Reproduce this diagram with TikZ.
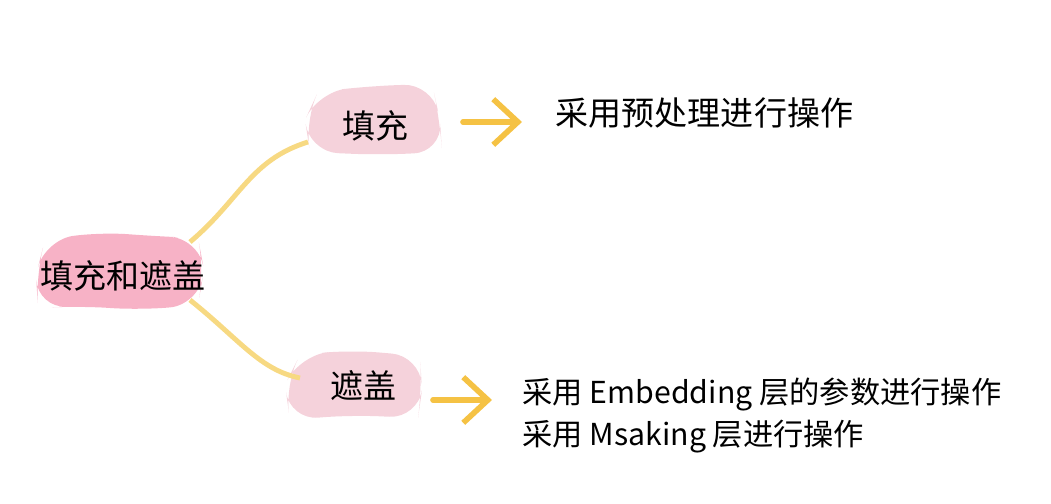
\documentclass[tikz,border=0pt]{standalone}
\usepackage{fontspec}
\usetikzlibrary{arrows.meta}
\newfontfamily\cjk{Noto Sans CJK SC}
\definecolor{rootpink}{HTML}{F7B2C6}
\definecolor{kidpink}{HTML}{F5D2DB}
\definecolor{linky}{HTML}{F7D982}
\definecolor{arry}{HTML}{F5C244}
\begin{document}
\begin{tikzpicture}[x=0.01cm,y=-0.01cm,
  txt/.style={font=\cjk\fontsize{9.4}{12}\selectfont, inner sep=0pt, anchor=west},
  txts/.style={font=\cjk\fontsize{8.6}{11}\selectfont, inner sep=0pt, anchor=west},
  link/.style={draw=linky, line width=1.4pt},
  arr/.style={draw=arry, line width=1.6pt, line cap=round, -{Straight Barb[length=7pt,width=13pt,line width=1.6pt]}}]
\useasboundingbox (0,0) rectangle (1051,504);
\fill[rootpink, rounded corners=8]
  (45,240) -- (100,232) -- (150,236) -- (198,238) -- (204,270) -- (198,305) -- (140,310) -- (80,306) -- (38,308) -- (36,275) -- cycle;
\fill[kidpink, rounded corners=8]
  (318,92) -- (370,86) -- (432,84) -- (440,120) -- (442,152) -- (380,155) -- (310,152) -- (305,120) -- cycle;
\fill[kidpink, rounded corners=8]
  (300,355) -- (350,350) -- (420,356) -- (422,390) -- (418,418) -- (350,415) -- (290,420) -- (285,385) -- cycle;
\node[txt] (rt) at (40,276) {填充和遮盖};
\node[txt] (c1t) at (342,126) {填充};
\node[txt] (c2t) at (330,386) {遮盖};
\coordinate (r1) at (190,242);
\coordinate (r2) at (190,300);
\coordinate (e1) at (308,142);
\coordinate (e2) at (300,378);
\draw[link] (r1) .. controls (240,200) and (250,160) .. (e1);
\draw[link] (r2) .. controls (240,340) and (260,370) .. (e2);
\coordinate (a1s) at (463,122); \coordinate (a1e) at (522,122);
\coordinate (a2s) at (433,400); \coordinate (a2e) at (492,400);
\draw[arr] (a1s) -- (a1e);
\draw[arr] (a2s) -- (a2e);
\node[txt] (t1) at (555,113) {采用预处理进行操作};
\node[txts] (t2) at (522,395) {采用 Embedding 层的参数进行操作};
\node[txts] (t3) at (522,437) {采用 Msaking 层进行操作};
\end{tikzpicture}
\end{document}
